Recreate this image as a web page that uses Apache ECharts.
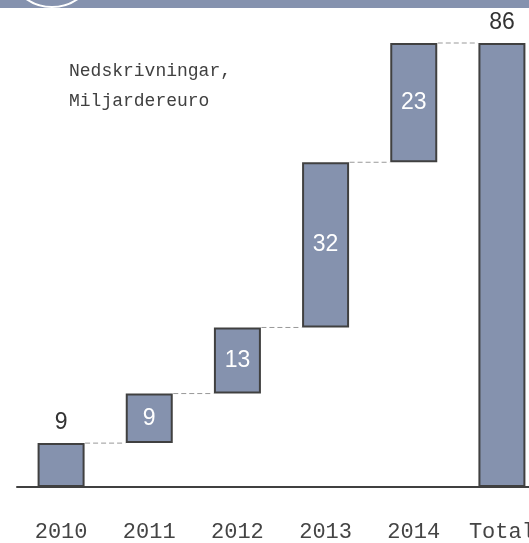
<!DOCTYPE html>
<html>
<head>
<meta charset="utf-8">
<script src="https://cdn.jsdelivr.net/npm/echarts@6/dist/echarts.min.js"></script>
<style>html,body{margin:0;padding:0;background:#fff;overflow:hidden}#c{width:546px;height:543px}</style>
</head>
<body>
<div id="c"></div>
<script>
const categories = ['2010', '2011', '2012', '2013', '2014', 'Total'];
const increments = [8.5, 9.6, 12.8, 32.0, 23.1];
const totalValue = 86;
const valueLabels = ['9', '9', '13', '32', '23', '86'];
const annotation = ['Nedskrivningar,', 'Miljardereuro'];

const BAR = '#8592ae';
const EDGE = '#404040';
const BAR_W = 48;

// build waterfall base / visible values
const bases = [];
const visible = [];
let run = 0;
increments.forEach(v => { bases.push(run); visible.push(v); run += v; });
bases.push(0); visible.push(totalValue);
const tops = bases.map((b, i) => b + visible[i]);

const chart = echarts.init(document.getElementById('c'), null, {renderer: 'canvas'});
chart.setOption({
  animation: false,
  title: {
    text: annotation.join('\n'),
    left: 64, top: 51,
    textStyle: {fontFamily: 'Liberation Mono', fontSize: 18, fontWeight: 'normal', color: '#404040', lineHeight: 30}
  },
  graphic: [
    {type: 'rect', shape: {x: 0, y: 0, width: 546, height: 8}, style: {fill: BAR}, z: 10},
    {type: 'circle', shape: {cx: 52, cy: -38, r: 45}, style: {fill: BAR, stroke: '#ffffff', lineWidth: 2}, z: 11}
  ],
  grid: {left: 17, top: 43, right: 0, bottom: 51, containLabel: false},
  xAxis: {
    type: 'category', data: categories,
    axisLine: {show: true, lineStyle: {color: EDGE, width: 2}},
    axisTick: {show: false},
    axisLabel: {fontFamily: 'Liberation Mono', fontSize: 22, color: '#444444', margin: 34, interval: 0}
  },
  yAxis: {type: 'value', min: 0, max: totalValue, show: false, splitLine: {show: false}},
  series: [
    {
      type: 'bar', stack: 'w', barWidth: BAR_W - 1, silent: true,
      itemStyle: {color: 'transparent'}, data: bases
    },
    {
      type: 'bar', stack: 'w', barWidth: BAR_W - 1,
      itemStyle: {color: BAR, borderColor: EDGE, borderWidth: 2},
      data: visible.map((v, i) => {
        const outside = (i === 0 || i === visible.length - 1);
        return {
          value: v,
          label: {
            show: true,
            position: outside ? 'top' : 'inside',
            distance: 9,
            formatter: valueLabels[i],
            color: outside ? '#333333' : '#ffffff',
            fontFamily: 'Liberation Sans', fontSize: 23
          }
        };
      })
    },
    {
      type: 'custom', silent: true, z: 1,
      data: tops.slice(0, tops.length - 1).map((t, i) => [i, t]),
      renderItem: function (params, api) {
        const i = api.value(0);
        const t = api.value(1);
        const p1 = api.coord([i, t]);
        const p2 = api.coord([i + 1, t]);
        return {
          type: 'line',
          shape: {x1: p1[0] + BAR_W / 2, y1: p1[1], x2: p2[0] - BAR_W / 2, y2: p2[1]},
          style: {stroke: '#999999', lineWidth: 1, lineDash: [5, 3]}
        };
      }
    }
  ]
});
</script>
</body>
</html>
